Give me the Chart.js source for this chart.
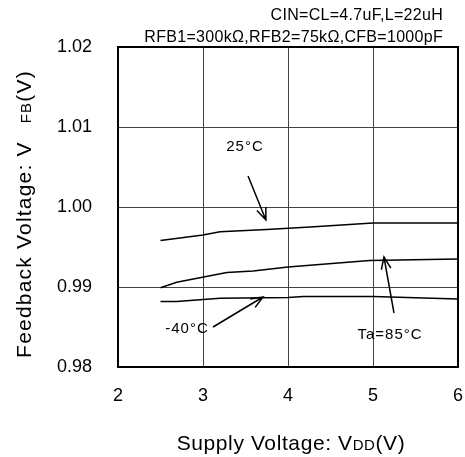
<!DOCTYPE html>
<html>
<head>
<meta charset="utf-8">
<script src="https://cdn.jsdelivr.net/npm/chart.js@4/dist/chart.umd.min.js"></script>
<style>
  html, body { margin: 0; padding: 0; background: #fff; }
  #wrap { width: 465px; height: 457px; }
</style>
</head>
<body>
<div id="wrap"><canvas id="fb-chart"></canvas></div>
<script>
// supply voltage (V) / feedback voltage (V) per temperature
const vdd25 = [2.5, 3.0, 3.2, 3.75, 4.26, 5.0, 6.0];
const vfb25 = [0.9958, 0.9965, 0.9969, 0.9972, 0.9975, 0.9980, 0.9980];
const vdd85 = [2.5, 2.69, 3.28, 3.59, 4.0, 4.96, 6.0];
const vfb85 = [0.9899, 0.9906, 0.9918, 0.9920, 0.9925, 0.9933, 0.9935];
const vddM40 = [2.5, 2.69, 3.2, 4.0, 4.18, 5.0, 6.0];
const vfbM40 = [0.9882, 0.9882, 0.9886, 0.9887, 0.9888, 0.9888, 0.9885];

const xTicks = [2, 3, 4, 5, 6];
const yTicks = [0.98, 0.99, 1.00, 1.01, 1.02];

const FONT = '"Liberation Sans", Arial, sans-serif';

const pts = (xs, ys) => xs.map((x, i) => ({ x, y: ys[i] }));

const lineStyle = {
  borderColor: '#000',
  borderWidth: 1.5,
  pointRadius: 0,
  tension: 0,
  fill: false,
};

// labels + arrows, placed in data units
const notes = [
  { text: '25°C', at: [3.494, 1.0075], from: [3.53, 1.00388], to: [3.74, 0.99838] },
  { text: 'Ta=85°C', at: [5.2, 0.984], from: [5.247, 0.98675], to: [5.129, 0.99375] },
  { text: '-40°C', at: [2.812, 0.98475], from: [3.118, 0.985], to: [3.706, 0.98875] },
];

// draws runs of text with different sizes, centred on cx, baseline at by
const drawRuns = (ctx, runs, cx, by, spacing) => {
  ctx.letterSpacing = spacing + 'px';
  let total = 0;
  runs.forEach(r => {
    ctx.font = r.size + 'px ' + FONT;
    r.w = ctx.measureText(r.t).width + (r.gap || 0);
    total += r.w;
  });
  let x = cx - total / 2;
  ctx.textAlign = 'left';
  ctx.textBaseline = 'alphabetic';
  runs.forEach(r => {
    ctx.font = r.size + 'px ' + FONT;
    ctx.fillText(r.t, x, by);
    x += r.w;
  });
  ctx.letterSpacing = '0px';
};

const decor = {
  id: 'decor',
  afterDraw(chart) {
    const { ctx, scales: { x, y }, chartArea: a } = chart;
    ctx.save();
    ctx.fillStyle = '#000';
    ctx.strokeStyle = '#000';

    // frame
    ctx.lineWidth = 2;
    ctx.strokeRect(a.left, a.top, a.right - a.left, a.bottom - a.top);

    // header conditions
    ctx.font = '16px ' + FONT;
    ctx.letterSpacing = '0.3px';
    ctx.textAlign = 'right';
    ctx.textBaseline = 'middle';
    ctx.fillText('CIN=CL=4.7uF,L=22uH', 443, 16);
    ctx.fillText('RFB1=300kΩ,RFB2=75kΩ,CFB=1000pF', 443, 38);

    // notes
    ctx.font = '15px ' + FONT;
    ctx.letterSpacing = '1px';
    ctx.textAlign = 'center';
    notes.forEach(n => {
      ctx.fillText(n.text, x.getPixelForValue(n.at[0]), y.getPixelForValue(n.at[1]));
      const x1 = x.getPixelForValue(n.from[0]), y1 = y.getPixelForValue(n.from[1]);
      const x2 = x.getPixelForValue(n.to[0]), y2 = y.getPixelForValue(n.to[1]);
      ctx.lineWidth = 1.5;
      ctx.beginPath();
      ctx.moveTo(x1, y1);
      ctx.lineTo(x2, y2);
      const ang = Math.atan2(y2 - y1, x2 - x1);
      const L = 13, spread = 0.38;
      ctx.moveTo(x2 - L * Math.cos(ang - spread), y2 - L * Math.sin(ang - spread));
      ctx.lineTo(x2, y2);
      ctx.lineTo(x2 - L * Math.cos(ang + spread), y2 - L * Math.sin(ang + spread));
      ctx.stroke();
    });
    ctx.letterSpacing = '0px';

    // axis titles
    drawRuns(ctx, [
      { t: 'Supply Voltage: V', size: 21 },
      { t: 'DD', size: 15 },
      { t: '(V)', size: 21 },
    ], 291, 450, 0.6);

    ctx.save();
    ctx.translate(31, 214);
    ctx.rotate(-Math.PI / 2);
    drawRuns(ctx, [
      { t: 'Feedback Voltage: V', size: 21, gap: 18 },
      { t: 'FB', size: 15 },
      { t: '(V)', size: 21 },
    ], 0, 0, 1.2);
    ctx.restore();

    ctx.restore();
  },
};

new Chart(document.getElementById('fb-chart'), {
  type: 'line',
  data: {
    datasets: [
      { label: '25°C', data: pts(vdd25, vfb25), ...lineStyle },
      { label: 'Ta=85°C', data: pts(vdd85, vfb85), ...lineStyle },
      { label: '-40°C', data: pts(vddM40, vfbM40), ...lineStyle },
    ],
  },
  options: {
    responsive: true,
    maintainAspectRatio: false,
    animation: false,
    layout: { padding: { top: 47, right: 7, left: 0, bottom: 0 } },
    plugins: { legend: { display: false }, tooltip: { enabled: false } },
    scales: {
      x: {
        type: 'linear',
        min: 2, max: 6,
        afterBuildTicks: s => { s.ticks = xTicks.map(v => ({ value: v })); },
        afterFit: s => { s.height = 90; s.paddingLeft = 0; s.paddingRight = 0; },
        grid: { color: '#444', lineWidth: 1, drawTicks: false },
        border: { display: false },
        ticks: {
          color: '#000',
          font: { family: FONT, size: 18 },
          padding: 18,
          callback: v => String(v),
        },
      },
      y: {
        min: 0.98, max: 1.02,
        afterBuildTicks: s => { s.ticks = yTicks.map(v => ({ value: v })); },
        afterFit: s => { s.width = 118; s.paddingTop = 0; s.paddingBottom = 0; },
        grid: { color: '#444', lineWidth: 1, drawTicks: false },
        border: { display: false },
        ticks: {
          color: '#000',
          font: { family: FONT, size: 18 },
          padding: 26,
          callback: v => v.toFixed(2),
        },
      },
    },
  },
  plugins: [decor],
});
</script>
</body>
</html>
